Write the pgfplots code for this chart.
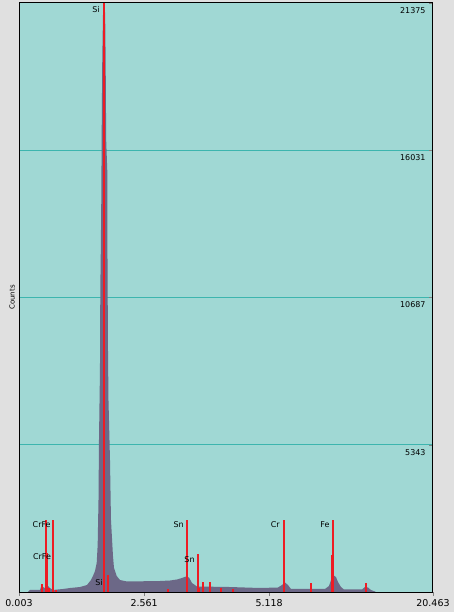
\documentclass[border=0pt]{standalone}
\usepackage{pgfplots}
\pgfplotsset{compat=1.18}
\usepackage{fontspec}
\setmainfont{DejaVu Sans}
\definecolor{margin}{HTML}{E0E0E0}
\definecolor{plotbg}{HTML}{A0D8D4}
\definecolor{gridc}{HTML}{3DB5AE}
\definecolor{spec}{HTML}{6C6887}
\definecolor{kml}{HTML}{EE1C24}

\begin{document}
\begin{tikzpicture}
\useasboundingbox (0,0) rectangle (454bp,612bp);
\fill[margin] (0,0) rectangle (454bp,612bp);
\begin{axis}[
  at={(19bp,20bp)}, anchor=south west,
  scale only axis, width=414bp, height=589bp,
  xmin=0.003, xmax=8.47, ymin=0, ymax=21375,
  axis background/.style={fill=plotbg},
  axis line style={black, line width=1bp},
  xtick={0.003,2.561,5.118,8.47},
  xticklabels={0.003,2.561,5.118,20.463},
  xtick pos=bottom, xtick align=outside,
  major tick length=4bp,
  ytick={5343,10687,16031,21375},
  yticklabels={5343,10687,16031,21375},
  ytick pos=right, ytick align=inside,
  yticklabel pos=right,
  scaled y ticks=false,
  y tick label style={anchor=north east, xshift=-4bp, yshift=-1bp, font=\fontsize{8}{9}\selectfont},
  x tick label style={font=\fontsize{9.5}{11}\selectfont},
  ymajorgrids, major grid style={gridc, line width=1bp},
  ylabel={Counts},
  ylabel style={at={(axis description cs:-0.01,0.5)}, anchor=south, rotate=0, inner sep=0pt, font=\fontsize{7}{8}\selectfont},
]
% spectrum
\addplot[fill=spec, draw=none] coordinates {
(0.187,0) (0.228,73) (0.432,73) (0.453,181) (0.494,181) (0.535,145) (0.596,218)
(0.637,145) (0.698,73) (0.903,109) (1.046,145) (1.250,181) (1.394,254)
(1.475,435) (1.516,580) (1.557,760) (1.592,1050) (1.612,1706) (1.629,3339)
(1.639,5516) (1.659,8056) (1.666,10960) (1.676,12411) (1.686,14226)
(1.696,17129) (1.706,19306) (1.721,20939) (1.741,21302) (1.751,21375)
(1.765,20939) (1.775,19306) (1.786,16403) (1.808,15314) (1.812,12411)
(1.823,8782) (1.833,6968) (1.864,4790) (1.884,2613) (1.925,1306)
(1.946,871) (2.001,581) (2.068,435) (2.211,381) (2.886,399) (3.091,417)
(3.234,454) (3.336,508) (3.418,562) (3.480,526) (3.541,327) (3.643,200)
(4.318,181) (4.932,145) (5.299,163) (5.381,254) (5.442,345) (5.504,254)
(5.565,109) (6.261,109) (6.343,218) (6.384,435) (6.425,617) (6.486,544)
(6.527,363) (6.588,181) (6.650,91) (7.018,91) (7.079,181) (7.140,163)
(7.202,73) (7.283,18) (7.304,0)
} \closedcycle;
% line markers
\addplot[ycomb, draw=kml, line width=2bp, mark=none] coordinates {
(0.473,290) (0.555,2613) (0.582,1415) (0.623,145) (0.692,2613) (0.760,73)
(1.747,21375) (1.817,617)
(3.044,91) (3.432,2613) (3.657,1379) (3.690,145) (3.760,352) (3.909,352)
(4.134,156) (4.373,109)
(5.422,2613) (5.968,316) (6.400,1343) (6.424,2613) (7.093,338)
};
% element labels
\begin{scope}[every node/.style={font=\fontsize{8}{9}\selectfont, inner sep=0pt}]
\node at (axis cs:1.578,21121) {Si};
\node at (axis cs:1.639,327) {Si};
\node at (axis cs:0.467,2431) {CrFe};
\node at (axis cs:0.473,1270) {CrFe};
\node at (axis cs:3.269,2431) {Sn};
\node at (axis cs:3.490,1161) {Sn};
\node at (axis cs:5.244,2431) {Cr};
\node at (axis cs:6.261,2431) {Fe};
\end{scope}
\end{axis}
\end{tikzpicture}
\end{document}
